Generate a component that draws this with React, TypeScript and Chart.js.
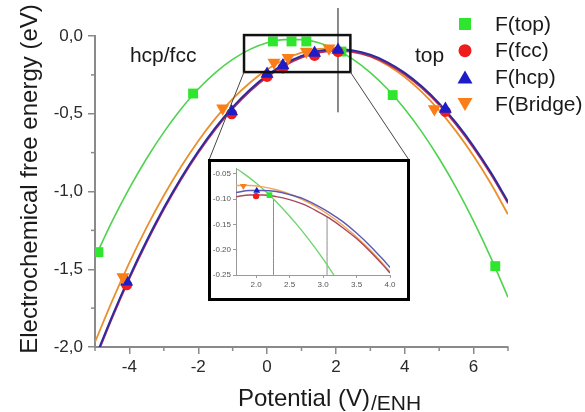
import React, { useEffect, useRef } from 'react';
import { Chart, registerables } from 'chart.js';

Chart.register(...registerables);

const FONT = "'Liberation Sans', Arial, Helvetica, sans-serif";

// ---------- main chart data ----------
const seriesNames = ['F(top)', 'F(fcc)', 'F(hcp)', 'F(Bridge)'];

const topX = [-4.9, -2.15, 0.17, 0.71, 1.14, 2.16, 3.65, 6.63];
const topY = [-1.39, -0.37, -0.035, -0.035, -0.035, -0.1, -0.38, -1.48];
const fccX = [-4.08, -1.03, 0.0, 0.46, 1.38, 2.06, 5.18];
const fccY = [-1.6, -0.5, -0.26, -0.205, -0.125, -0.1, -0.485];
const hcpX = [-4.08, -1.03, 0.0, 0.46, 1.38, 2.06, 5.18];
const hcpY = [-1.58, -0.485, -0.245, -0.19, -0.11, -0.09, -0.47];
const bridgeX = [-4.19, -1.29, 0.2, 0.61, 1.14, 1.8, 4.86];
const bridgeY = [-1.55, -0.465, -0.17, -0.14, -0.1, -0.078, -0.47];

// fitted curves
const topCurveX = [-4.9, -4.5, -4, -3.5, -3, -2.5, -2, -1.5, -1, -0.5, 0, 0.5, 1, 1.5, 2, 2.5, 3, 3.5, 4, 4.5, 5, 5.5, 6, 6.5, 7];
const topCurveY = [-1.377, -1.191, -0.979, -0.788, -0.618, -0.469, -0.341, -0.235, -0.15, -0.086, -0.044, -0.023, -0.023, -0.044, -0.086, -0.15, -0.235, -0.341, -0.469, -0.618, -0.788, -0.979, -1.191, -1.425, -1.68];
const curveX = [-5, -4.5, -4, -3.5, -3, -2.5, -2, -1.5, -1, -0.5, 0, 0.5, 1, 1.5, 2, 2.5, 3, 3.5, 4, 4.5, 5, 5.5, 6, 6.5, 7];
const fccCurveY = [-2.083, -1.811, -1.559, -1.327, -1.115, -0.923, -0.751, -0.599, -0.467, -0.355, -0.263, -0.191, -0.139, -0.107, -0.095, -0.103, -0.131, -0.179, -0.247, -0.335, -0.443, -0.571, -0.719, -0.887, -1.075];
const hcpCurveY = [-2.073, -1.801, -1.549, -1.317, -1.105, -0.913, -0.741, -0.589, -0.457, -0.345, -0.253, -0.181, -0.129, -0.097, -0.085, -0.093, -0.121, -0.169, -0.237, -0.325, -0.433, -0.561, -0.709, -0.877, -1.065];
const bridgeCurveY = [-1.969, -1.703, -1.457, -1.231, -1.026, -0.841, -0.675, -0.53, -0.405, -0.301, -0.216, -0.151, -0.107, -0.083, -0.079, -0.095, -0.131, -0.188, -0.264, -0.361, -0.478, -0.615, -0.772, -0.949, -1.147];

// marker line (vertical) in the main chart
const markerLineX = [2.06, 2.06];
const markerLineY = [0.18, -0.49];

const xTicks = [-4, -2, 0, 2, 4, 6];
const xMinorTicks = [-5, -3, -1, 1, 3, 5, 7];
const yTicks = [0, -0.5, -1, -1.5, -2];
const yMinorTicks = [-0.25, -0.75, -1.25, -1.75];

// ---------- inset data ----------
const insetCurveX = [1.7, 1.9, 2.1, 2.3, 2.5, 2.7, 2.9, 3.1, 3.3, 3.5, 3.7, 3.9, 4.0];
const insetFccY = [-0.095, -0.0919, -0.0919, -0.095, -0.101, -0.11, -0.123, -0.138, -0.157, -0.178, -0.203, -0.231, -0.246];
const insetHcpY = [-0.087, -0.083, -0.083, -0.085, -0.091, -0.099, -0.112, -0.127, -0.145, -0.167, -0.192, -0.22, -0.235];
const insetBridgeY = [-0.0729, -0.0729, -0.0757, -0.0814, -0.0898, -0.1012, -0.1153, -0.1323, -0.1522, -0.1748, -0.2003, -0.2286, -0.2438];
const insetTopX = [1.7, 1.8, 2.0, 2.2, 2.4, 2.6, 2.8, 3.0, 3.2];
const insetTopY = [-0.039, -0.048, -0.068, -0.092, -0.119, -0.149, -0.182, -0.218, -0.258];
const insetPointsX = [2.2, 2.0, 2.01, 1.81];
const insetPointsY = [-0.092, -0.094, -0.0835, -0.074];
const insetLine1X = [2.26, 2.26];
const insetLine1Y = [-0.1, -0.25];
const insetLine2X = [3.06, 3.06];
const insetLine2Y = [-0.135, -0.25];
const insetXTicks = [2.0, 2.5, 3.0, 3.5, 4.0];
const insetYTicks = [-0.05, -0.1, -0.15, -0.2, -0.25];

// ---------- styles / layout ----------
const AXIS = '#8a8a8a';
const GREEN = '#2ee62e';
const RED = '#ee1c1c';
const BLUE = '#1c1cc8';
const ORANGE = '#fb7d18';
const INSET = { left: 208, top: 159, width: 202, height: 142 };
const zoomRect = { x0: -0.67, x1: 2.42, y0: 0.006, y1: -0.232 };
const annotations = [
  { text: 'hcp/fcc', x: -3.02, y: -0.17 },
  { text: 'top', x: 4.72, y: -0.168 },
];
const LEGEND = { markerX: 465, textX: 495, y0: 24, gap: 26.7 };

const pts = (xs: number[], ys: number[]) => xs.map((x, i) => ({ x, y: ys[i] }));

function drawMarker(ctx: CanvasRenderingContext2D, kind: string, cx: number, cy: number, color: string) {
  ctx.fillStyle = color;
  ctx.beginPath();
  if (kind === 'rect') {
    ctx.rect(cx - 6, cy - 6, 12, 12);
  } else if (kind === 'circle') {
    ctx.arc(cx, cy, 6.5, 0, Math.PI * 2);
  } else if (kind === 'up') {
    ctx.moveTo(cx, cy - 7);
    ctx.lineTo(cx + 7.5, cy + 6);
    ctx.lineTo(cx - 7.5, cy + 6);
    ctx.closePath();
  } else {
    ctx.moveTo(cx - 7.5, cy - 6);
    ctx.lineTo(cx + 7.5, cy - 6);
    ctx.lineTo(cx, cy + 7);
    ctx.closePath();
  }
  ctx.fill();
}

const overlayPlugin = {
  id: 'overlay',
  afterDraw(chart: any) {
    const { ctx, chartArea, scales } = chart;
    const x = scales.x;
    const y = scales.y;
    ctx.save();
    // minor ticks
    ctx.strokeStyle = AXIS;
    ctx.lineWidth = 1.5;
    xMinorTicks.forEach((v) => {
      const px = x.getPixelForValue(v);
      ctx.beginPath();
      ctx.moveTo(px, chartArea.bottom);
      ctx.lineTo(px, chartArea.bottom + 4);
      ctx.stroke();
    });
    yMinorTicks.forEach((v) => {
      const py = y.getPixelForValue(v);
      ctx.beginPath();
      ctx.moveTo(chartArea.left, py);
      ctx.lineTo(chartArea.left - 4, py);
      ctx.stroke();
    });
    // zoom rectangle
    const rx0 = x.getPixelForValue(zoomRect.x0);
    const rx1 = x.getPixelForValue(zoomRect.x1);
    const ry0 = y.getPixelForValue(zoomRect.y0);
    const ry1 = y.getPixelForValue(zoomRect.y1);
    ctx.strokeStyle = '#111';
    ctx.lineWidth = 2.5;
    ctx.strokeRect(rx0, ry0, rx1 - rx0, ry1 - ry0);
    // connectors
    ctx.strokeStyle = '#444';
    ctx.lineWidth = 1;
    ctx.beginPath();
    ctx.moveTo(rx0, ry1);
    ctx.lineTo(INSET.left + 1, INSET.top + 1);
    ctx.moveTo(rx1, ry1);
    ctx.lineTo(INSET.left + INSET.width - 1, INSET.top + 1);
    ctx.stroke();
    // annotations
    ctx.fillStyle = '#1a1a1a';
    ctx.font = `21px ${FONT}`;
    ctx.textAlign = 'center';
    ctx.textBaseline = 'alphabetic';
    annotations.forEach((a) => {
      ctx.fillText(a.text, x.getPixelForValue(a.x), y.getPixelForValue(a.y));
    });
    // legend
    const kinds = ['rect', 'circle', 'up', 'down'];
    const colors = [GREEN, RED, BLUE, ORANGE];
    seriesNames.forEach((name, i) => {
      const cy = LEGEND.y0 + i * LEGEND.gap;
      drawMarker(ctx, kinds[i], LEGEND.markerX, cy, colors[i]);
      ctx.fillStyle = '#1a1a1a';
      ctx.font = `21px ${FONT}`;
      ctx.textAlign = 'left';
      ctx.textBaseline = 'middle';
      ctx.fillText(name, LEGEND.textX, cy + 1);
    });
    // y title
    ctx.save();
    ctx.translate(37, 179);
    ctx.rotate(-Math.PI / 2);
    ctx.font = `24px ${FONT}`;
    ctx.textAlign = 'center';
    ctx.textBaseline = 'alphabetic';
    ctx.fillStyle = '#1a1a1a';
    ctx.fillText('Electrochemical free energy (eV)', 0, 0);
    ctx.restore();
    // x title
    const main = 'Potential (V)';
    const sub = '/ENH';
    ctx.font = `24px ${FONT}`;
    const w1 = ctx.measureText(main).width;
    ctx.font = `21px ${FONT}`;
    const w2 = ctx.measureText(sub).width;
    const start = 329 - (w1 + w2) / 2;
    ctx.textAlign = 'left';
    ctx.textBaseline = 'alphabetic';
    ctx.fillStyle = '#1a1a1a';
    ctx.font = `24px ${FONT}`;
    ctx.fillText(main, start, 406);
    ctx.font = `21px ${FONT}`;
    ctx.fillText(sub, start + w1 + 1, 410);
    ctx.restore();
  },
};

export default function App() {
  const mainRef = useRef<HTMLCanvasElement>(null);
  const insetRef = useRef<HTMLCanvasElement>(null);

  useEffect(() => {
    document.body.style.margin = '0';
    const lineDs = (label: string, xs: number[], ys: number[], color: string, width: number, order: number) => ({
      label,
      data: pts(xs, ys),
      showLine: true,
      borderColor: color,
      borderWidth: width,
      pointRadius: 0,
      cubicInterpolationMode: 'monotone' as const,
      order,
    });
    const main = new Chart(mainRef.current!, {
      type: 'scatter',
      data: {
        datasets: [
          lineDs('top fit', topCurveX, topCurveY, '#4fd34f', 1.6, 20),
          lineDs('bridge fit', curveX, bridgeCurveY, '#e8902e', 1.8, 19),
          lineDs('fcc fit', curveX, fccCurveY, '#c02a52', 2, 18),
          lineDs('hcp fit', curveX, hcpCurveY, '#2c2ca0', 2, 17),
          {
            label: 'marker',
            data: pts(markerLineX, markerLineY),
            showLine: true,
            borderColor: '#7a7a7a',
            borderWidth: 1,
            pointRadius: 0,
            clip: false as any,
            order: 16,
          },
          { label: seriesNames[0], data: pts(topX, topY), pointStyle: 'rect', pointRadius: 7, backgroundColor: GREEN, borderWidth: 0, order: 3 },
          { label: seriesNames[1], data: pts(fccX, fccY), pointStyle: 'circle', pointRadius: 5.5, backgroundColor: RED, borderWidth: 0, order: 2 },
          { label: seriesNames[2], data: pts(hcpX, hcpY), pointStyle: 'triangle', pointRadius: 7.5, backgroundColor: BLUE, borderWidth: 0, order: 1 },
          { label: seriesNames[3], data: pts(bridgeX, bridgeY), pointStyle: 'triangle', rotation: 180, pointRadius: 7.5, backgroundColor: ORANGE, borderWidth: 0, order: 0 },
        ] as any,
      },
      options: {
        animation: false,
        responsive: false,
        devicePixelRatio: 1,
        events: [],
        layout: { padding: { left: 0, top: 36, right: 77, bottom: 0 } },
        plugins: { legend: { display: false }, tooltip: { enabled: false }, title: { display: false } },
        scales: {
          x: {
            type: 'linear',
            min: -5,
            max: 7,
            afterBuildTicks: (s: any) => { s.ticks = xTicks.map((v) => ({ value: v })); },
            afterFit: (s: any) => { s.height = 65; },
            grid: { display: true, drawOnChartArea: false, drawTicks: true, tickLength: 7, color: AXIS, lineWidth: 1.5 },
            border: { display: true, color: AXIS, width: 2 },
            ticks: { color: '#2a2a2a', font: { family: FONT, size: 17 }, padding: 3, callback: (v: any) => String(v) },
          },
          y: {
            type: 'linear',
            min: -2,
            max: 0,
            afterBuildTicks: (s: any) => { s.ticks = yTicks.map((v) => ({ value: v })); },
            afterFit: (s: any) => { s.width = 95; },
            grid: { display: true, drawOnChartArea: false, drawTicks: true, tickLength: 7, color: AXIS, lineWidth: 1.5 },
            border: { display: true, color: AXIS, width: 2 },
            ticks: { color: '#2a2a2a', font: { family: FONT, size: 17 }, padding: 5, callback: (v: any) => Number(v).toFixed(1).replace('.', ',') },
          },
        },
      } as any,
      plugins: [overlayPlugin],
    });

    const insetLine = (xs: number[], ys: number[], color: string, width: number, order: number) => ({
      data: pts(xs, ys),
      showLine: true,
      borderColor: color,
      borderWidth: width,
      pointRadius: 0,
      cubicInterpolationMode: 'monotone' as const,
      order,
    });
    const inset = new Chart(insetRef.current!, {
      type: 'scatter',
      data: {
        datasets: [
          insetLine(insetLine1X, insetLine1Y, '#8c8c8c', 1, 30),
          insetLine(insetLine2X, insetLine2Y, '#8c8c8c', 1, 30),
          insetLine(insetTopX, insetTopY, '#6ed66e', 1.4, 20),
          insetLine(insetCurveX, insetBridgeY, '#f2a55a', 1.4, 19),
          insetLine(insetCurveX, insetFccY, '#a8485a', 1.4, 18),
          insetLine(insetCurveX, insetHcpY, '#5a5ab4', 1.4, 17),
          { data: [{ x: insetPointsX[0], y: insetPointsY[0] }], pointStyle: 'rect', pointRadius: 4, backgroundColor: GREEN, borderWidth: 0, order: 3 },
          { data: [{ x: insetPointsX[1], y: insetPointsY[1] }], pointStyle: 'circle', pointRadius: 3.2, backgroundColor: RED, borderWidth: 0, order: 2 },
          { data: [{ x: insetPointsX[2], y: insetPointsY[2] }], pointStyle: 'triangle', pointRadius: 4, backgroundColor: BLUE, borderWidth: 0, order: 1 },
          { data: [{ x: insetPointsX[3], y: insetPointsY[3] }], pointStyle: 'triangle', rotation: 180, pointRadius: 4, backgroundColor: ORANGE, borderWidth: 0, order: 0 },
        ] as any,
      },
      options: {
        animation: false,
        responsive: false,
        devicePixelRatio: 1,
        events: [],
        layout: { padding: { left: 0, top: 4, right: 17, bottom: 0 } },
        plugins: { legend: { display: false }, tooltip: { enabled: false } },
        scales: {
          x: {
            type: 'linear',
            min: 1.7,
            max: 4.0,
            afterBuildTicks: (s: any) => { s.ticks = insetXTicks.map((v) => ({ value: v })); },
            afterFit: (s: any) => { s.height = 23; },
            grid: { display: true, drawOnChartArea: false, drawTicks: true, tickLength: 3, color: '#9a9a9a', lineWidth: 1 },
            border: { display: true, color: '#9a9a9a', width: 1 },
            ticks: { color: '#555', font: { family: FONT, size: 8 }, padding: 2, callback: (v: any) => Number(v).toFixed(1) },
          },
          y: {
            type: 'linear',
            min: -0.25,
            max: -0.04,
            afterBuildTicks: (s: any) => { s.ticks = insetYTicks.map((v) => ({ value: v })); },
            afterFit: (s: any) => { s.width = 25; },
            grid: { display: true, drawOnChartArea: false, drawTicks: true, tickLength: 3, color: '#9a9a9a', lineWidth: 1 },
            border: { display: true, color: '#9a9a9a', width: 1 },
            ticks: { color: '#555', font: { family: FONT, size: 8 }, padding: 2, callback: (v: any) => Number(v).toFixed(2) },
          },
        },
      } as any,
    });

    return () => {
      main.destroy();
      inset.destroy();
    };
  }, []);

  return (
    <div style={{ position: 'fixed', left: 0, top: 0, width: 585, height: 412, background: '#fff', overflow: 'hidden' }}>
      <canvas ref={mainRef} width={585} height={412} style={{ position: 'absolute', left: 0, top: 0, width: 585, height: 412 }} />
      <div
        style={{
          position: 'absolute',
          left: INSET.left,
          top: INSET.top,
          width: INSET.width,
          height: INSET.height,
          border: '3px solid #000',
          boxSizing: 'border-box',
          background: '#fff',
        }}
      >
        <canvas ref={insetRef} width={196} height={136} style={{ display: 'block', width: 196, height: 136 }} />
      </div>
    </div>
  );
}
